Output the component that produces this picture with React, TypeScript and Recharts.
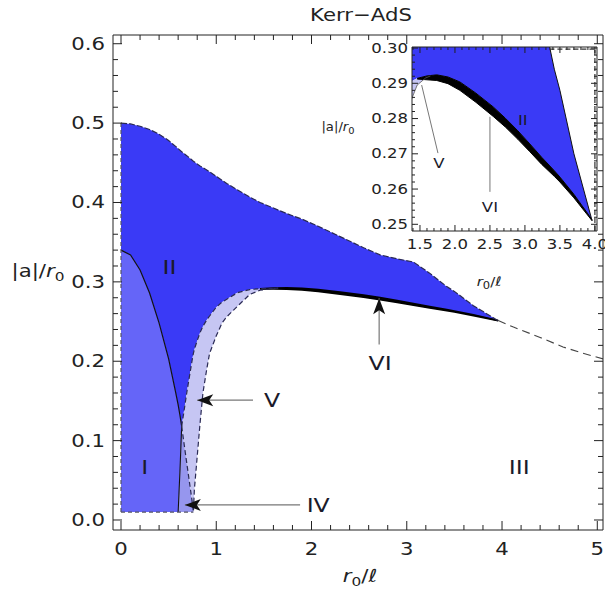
import React from 'react';
import { ComposedChart, Area, Line, Scatter, XAxis, YAxis } from 'recharts';

// region II (dark blue): top boundary and lower boundary on shared x
const iiX = [0, 0.1, 0.2, 0.3, 0.4, 0.5, 0.57, 0.637, 0.69, 0.76, 0.83, 0.9, 1.0, 1.11, 1.22, 1.35, 1.46, 1.6, 1.74, 1.9, 2.07, 2.3, 2.547, 2.72, 2.9, 3.07, 3.24, 3.42, 3.5, 3.7, 3.96];
const iiTop = [0.5, 0.499, 0.496, 0.492, 0.486, 0.478, 0.471, 0.464, 0.459, 0.452, 0.446, 0.441, 0.433, 0.424, 0.416, 0.407, 0.4, 0.393, 0.386, 0.379, 0.37, 0.357, 0.343, 0.334, 0.329, 0.325, 0.311, 0.294, 0.288, 0.27, 0.251];
const iiBottom = [0.34, 0.334, 0.315, 0.286, 0.248, 0.203, 0.163, 0.118, 0.16, 0.21, 0.236, 0.252, 0.268, 0.278, 0.2862, 0.2903, 0.2914, 0.2921, 0.2924, 0.2918, 0.2904, 0.2872, 0.2833, 0.2801, 0.2765, 0.2728, 0.269, 0.2652, 0.2634, 0.2585, 0.2513];

// region I
const iX = [0, 0.1, 0.2, 0.3, 0.4, 0.5, 0.57, 0.6, 0.62, 0.637];
const iLow = [0.01, 0.01, 0.01, 0.01, 0.01, 0.01, 0.01, 0.01, 0.065, 0.118];
const iHigh = [0.34, 0.334, 0.315, 0.286, 0.248, 0.203, 0.163, 0.145, 0.131, 0.118];

// region IV
const ivX = [0.6, 0.62, 0.637, 0.66, 0.69, 0.745, 0.76];
const ivLow = [0.01, 0.01, 0.01, 0.01, 0.01, 0.01, 0.01];
const ivHigh = [0.01, 0.065, 0.118, 0.098, 0.072, 0.025, 0.01];

// region V
const vX = [0.637, 0.66, 0.69, 0.745, 0.76, 0.77, 0.8, 0.83, 0.86, 0.9, 0.93, 1.0, 1.06, 1.11, 1.22, 1.35, 1.46, 1.58, 1.65];
const vLow = [0.118, 0.098, 0.072, 0.025, 0.01, 0.038, 0.08, 0.122, 0.16, 0.19, 0.21, 0.232, 0.248, 0.256, 0.269, 0.284, 0.2895, 0.2915, 0.2921];
const vHigh = [0.118, 0.136, 0.16, 0.2, 0.21, 0.215, 0.226, 0.236, 0.244, 0.252, 0.257, 0.268, 0.2745, 0.278, 0.2862, 0.2903, 0.2914, 0.2919, 0.2921];

// region VI (thin black band)
const viX = [1.46, 1.6, 1.74, 1.9, 2.07, 2.3, 2.547, 2.72, 2.9, 3.07, 3.24, 3.42, 3.5, 3.7, 3.96];
const viHigh = [0.2914, 0.2921, 0.2924, 0.2918, 0.2904, 0.2872, 0.2833, 0.2801, 0.2765, 0.2728, 0.269, 0.2652, 0.2634, 0.2585, 0.2513];
const viLow = [0.2912, 0.291, 0.2908, 0.2899, 0.288, 0.2846, 0.2806, 0.2776, 0.2741, 0.2706, 0.267, 0.2636, 0.262, 0.2575, 0.251];

// dashed curve through region III
const iiiX = [3.96, 4.12, 4.4, 4.64, 4.85, 5.06];
const iiiY = [0.2513, 0.243, 0.23, 0.218, 0.21, 0.203];

// region labels
const labelNames = ['I', 'II', 'III', 'IV', 'V', 'VI'];
const labelX = [0.25, 0.51, 4.18, 2.07, 1.585, 2.72];
const labelY = [0.067, 0.318, 0.067, 0.019, 0.151, 0.197];

// arrows: [from, tip]
const arrowV = { x: [1.386, 0.8], y: [0.151, 0.151] };
const arrowIV = { x: [1.88, 0.67], y: [0.019, 0.019] };
const arrowVI = { x: [2.71, 2.71], y: [0.221, 0.2795] };

// inset annotations
const insetLabelNames = ['II', 'V', 'VI'];
const insetLabelX = [2.97, 1.77, 2.5];
const insetLabelY = [0.2795, 0.2673, 0.2548];
const insetLineV = { x: [1.524, 1.757], y: [0.2895, 0.2702] };
const insetLineVI = { x: [2.5, 2.5], y: [0.2805, 0.2592] };
const insetEdgeTop = { x: [3.35, 4.03], y: [0.2997, 0.2997] };
const insetEdgeRight = { x: [4.0, 4.0], y: [0.2481, 0.3003] };

// ticks
const mainXMajor = [0, 1, 2, 3, 4, 5];
const mainYMajor = [0, 0.1, 0.2, 0.3, 0.4, 0.5, 0.6];
const insetXMajor = [1.5, 2.0, 2.5, 3.0, 3.5, 4.0];
const insetYMajor = [0.25, 0.26, 0.27, 0.28, 0.29, 0.3];

const steps = (a: number, b: number, s: number) => {
  const out: number[] = [];
  for (let k = 0; a + k * s <= b + 1e-9; k++) out.push(Math.round((a + k * s) * 1e6) / 1e6);
  return out;
};
const mainXTicks = steps(0, 5, 0.2);
const mainYTicks = steps(0, 0.6, 0.02);
const insetXTicks = steps(1.4, 4.0, 0.1);
const insetYTicks = steps(0.25, 0.3, 0.002);

const FONT = '"DejaVu Sans", sans-serif';
const INK = '#222';

const range = (xs: number[], lo: number[], hi: number[]) => xs.map((x, i) => ({ x, range: [lo[i], hi[i]] }));
const pts = (xs: number[], ys: number[]) => xs.map((x, i) => ({ x, y: ys[i] }));
const isMajor = (v: number, majors: number[]) => majors.some((m) => Math.abs(m - v) < 1e-6);

function WideText({ x, y, size, anchor, children, fill = INK }: any) {
  return (
    <text
      transform={`translate(${x},${y}) scale(1.18,1)`}
      x={0}
      y={0}
      fontSize={size}
      fontFamily={FONT}
      textAnchor={anchor}
      dominantBaseline="central"
      fill={fill}
    >
      {children}
    </text>
  );
}

function makeTick(side: 'bottom' | 'top' | 'left' | 'right', majors: number[], big: number, small: number, size: number, fmt?: (v: number) => string, gap = 0) {
  return (p: any) => {
    const { x, y, payload } = p;
    const v = payload.value;
    const major = isMajor(v, majors);
    const len = major ? big : small;
    let line;
    if (side === 'bottom') line = <line x1={x} x2={x} y1={y} y2={y - len} stroke={INK} />;
    else if (side === 'top') line = <line x1={x} x2={x} y1={y} y2={y + len} stroke={INK} />;
    else if (side === 'left') line = <line x1={x} x2={x + len} y1={y} y2={y} stroke={INK} />;
    else line = <line x1={x} x2={x - len} y1={y} y2={y} stroke={INK} />;
    let label = null;
    if (major && fmt) {
      if (side === 'bottom') label = <WideText x={x} y={y + gap} size={size} anchor="middle">{fmt(v)}</WideText>;
      if (side === 'left') label = <WideText x={x - gap} y={y} size={size} anchor="end">{fmt(v)}</WideText>;
    }
    return (
      <g key={`${side}-${v}`}>
        {line}
        {label}
      </g>
    );
  };
}

function arrowDot(dir: 'left' | 'up') {
  return (p: any) => {
    const { cx, cy, index } = p;
    if (index !== 1) return <g key={`a${index}`} />;
    const pts =
      dir === 'left'
        ? `${cx},${cy} ${cx + 16},${cy - 6} ${cx + 12},${cy} ${cx + 16},${cy + 6}`
        : `${cx},${cy} ${cx - 6},${cy + 16} ${cx},${cy + 12} ${cx + 6},${cy + 16}`;
    return <polygon key={`a${index}`} points={pts} fill="#111" />;
  };
}

function labelShape(size: number, fill: string) {
  return (p: any) => (
    <WideText x={p.cx} y={p.cy} size={size} anchor="middle" fill={fill}>
      {p.payload.name}
    </WideText>
  );
}

const C_II = '#3a3af6';
const C_I = '#6565f8';
const C_IV = '#9696ee';
const C_V = '#c6c6f3';
const DASH = '#2a2a55';

export default function App() {
  const iiData = range(iiX, iiBottom, iiTop);
  const iData = range(iX, iLow, iHigh);
  const ivData = range(ivX, ivLow, ivHigh);
  const vData = range(vX, vLow, vHigh);
  const viData = range(viX, viLow, viHigh);
  const labels = labelNames.map((name, i) => ({ name, x: labelX[i], y: labelY[i] }));
  const insetLabels = insetLabelNames.map((name, i) => ({ name, x: insetLabelX[i], y: insetLabelY[i] }));

  const common = { isAnimationActive: false, dot: false, activeDot: false } as any;

  return (
    <div style={{ position: 'absolute', left: 0, top: 0, width: 605, height: 600, background: '#fff', fontFamily: FONT }}>
      <ComposedChart width={605} height={600} margin={{ top: 34, right: 1, bottom: 0, left: 0 }}>
        <XAxis type="number" dataKey="x" domain={[-0.084, 5.06]} allowDataOverflow ticks={mainXTicks} interval={0}
          tickSize={0} tickMargin={0} tickLine={false} height={70} stroke={INK}
          tick={makeTick('bottom', mainXMajor, 9, 5, 18, (v) => String(Math.round(v)), 19)} />
        <XAxis xAxisId="t" orientation="top" type="number" dataKey="x" domain={[-0.084, 5.06]} allowDataOverflow ticks={mainXTicks} interval={0}
          tickSize={0} tickMargin={0} tickLine={false} height={1} stroke={INK}
          tick={makeTick('top', mainXMajor, 9, 5, 18)} />
        <YAxis type="number" domain={[-0.0126, 0.611]} allowDataOverflow ticks={mainYTicks} interval={0}
          tickSize={0} tickMargin={0} tickLine={false} width={113} stroke={INK}
          tick={makeTick('left', mainYMajor, 9, 5, 18, (v) => v.toFixed(1), 8)} />
        <YAxis yAxisId="r" orientation="right" type="number" domain={[-0.0126, 0.611]} allowDataOverflow ticks={mainYTicks} interval={0}
          tickSize={0} tickMargin={0} tickLine={false} width={1} stroke={INK}
          tick={makeTick('right', mainYMajor, 9, 5, 18)} />

        <Area data={iiData} dataKey="range" type="linear" fill={C_II} fillOpacity={1} stroke="none" {...common} />
        <Area data={iData} dataKey="range" type="linear" fill={C_I} fillOpacity={1} stroke="none" {...common} />
        <Area data={ivData} dataKey="range" type="linear" fill={C_IV} fillOpacity={1} stroke="none" {...common} />
        <Area data={vData} dataKey="range" type="linear" fill={C_V} fillOpacity={1} stroke="none" {...common} />
        <Area data={viData} dataKey="range" type="linear" fill="#000" fillOpacity={1} stroke="#000" strokeWidth={1.6} {...common} />

        <Line data={pts(iiX, iiTop)} dataKey="y" type="linear" stroke={DASH} strokeWidth={1.2} strokeDasharray="6 2" {...common} />
        <Line data={pts(iX, iHigh)} dataKey="y" type="linear" stroke="#111" strokeWidth={1.2} {...common} />
        <Line data={pts(iX.slice(7), iLow.slice(7))} dataKey="y" type="linear" stroke="#111" strokeWidth={1.1} {...common} />
        <Line data={pts(vX, vHigh)} dataKey="y" type="linear" stroke={DASH} strokeWidth={1.2} strokeDasharray="5 3" {...common} />
        <Line data={pts(vX, vLow)} dataKey="y" type="linear" stroke={DASH} strokeWidth={1.2} strokeDasharray="5 3" {...common} />
        <Line data={pts([0, 0], [iLow[0], iiTop[0]])} dataKey="y" type="linear" stroke="#556" strokeWidth={1.2} strokeDasharray="4 3" {...common} />
        <Line data={pts([0, ivX[ivX.length - 1]], [iLow[0], iLow[0]])} dataKey="y" type="linear" stroke="#556" strokeWidth={1.2} strokeDasharray="4 3" {...common} />
        <Line data={pts(iiiX, iiiY)} dataKey="y" type="linear" stroke="#444" strokeWidth={1.1} strokeDasharray="8 5" {...common} />

        <Line data={pts(arrowV.x, arrowV.y)} dataKey="y" type="linear" stroke="#777" strokeWidth={1.2} isAnimationActive={false} dot={arrowDot('left')} activeDot={false} />
        <Line data={pts(arrowIV.x, arrowIV.y)} dataKey="y" type="linear" stroke="#777" strokeWidth={1.2} isAnimationActive={false} dot={arrowDot('left')} activeDot={false} />
        <Line data={pts(arrowVI.x, arrowVI.y)} dataKey="y" type="linear" stroke="#777" strokeWidth={1.2} isAnimationActive={false} dot={arrowDot('up')} activeDot={false} />

        <Scatter data={labels} dataKey="y" isAnimationActive={false} shape={labelShape(20, '#1a1a2a')} />
      </ComposedChart>

      <div style={{ position: 'absolute', left: 361, top: 4, transform: 'translateX(-50%) scaleX(1.18)', fontSize: 18, color: INK, whiteSpace: 'nowrap' }}>Kerr−AdS</div>
      <div style={{ position: 'absolute', left: 38, top: 260, transform: 'translateX(-50%) scaleX(1.18)', fontSize: 18, color: INK, whiteSpace: 'nowrap' }}>
        |a|/<i>r</i><span style={{ fontSize: 13, position: 'relative', top: 4 }}>0</span>
      </div>
      <div style={{ position: 'absolute', left: 360, top: 565, transform: 'translateX(-50%) scaleX(1.18)', fontSize: 18, color: INK, whiteSpace: 'nowrap' }}>
        <i>r</i><span style={{ fontSize: 13, position: 'relative', top: 4 }}>0</span>/<i>ℓ</i>
      </div>

      <div style={{ position: 'absolute', left: 330, top: 30, width: 275, height: 270 }}>
        <ComposedChart width={275} height={270} margin={{ top: 16, right: 7, bottom: 0, left: 0 }}>
          <XAxis type="number" dataKey="x" domain={[1.386, 4.03]} allowDataOverflow ticks={insetXTicks} interval={0}
            tickSize={0} tickMargin={0} tickLine={false} height={69} stroke={INK}
            tick={makeTick('bottom', insetXMajor, 6, 3, 14, (v) => v.toFixed(1), 13)} />
          <XAxis xAxisId="t" orientation="top" type="number" dataKey="x" domain={[1.386, 4.03]} allowDataOverflow ticks={insetXTicks} interval={0}
            tickSize={0} tickMargin={0} tickLine={false} height={1} stroke={INK}
            tick={makeTick('top', insetXMajor, 6, 3, 14)} />
          <YAxis type="number" domain={[0.2481, 0.3003]} allowDataOverflow ticks={insetYTicks} interval={0}
            tickSize={0} tickMargin={0} tickLine={false} width={82} stroke={INK}
            tick={makeTick('left', insetYMajor, 6, 3, 14, (v) => v.toFixed(2), 4)} />
          <YAxis yAxisId="r" orientation="right" type="number" domain={[0.2481, 0.3003]} allowDataOverflow ticks={insetYTicks} interval={0}
            tickSize={0} tickMargin={0} tickLine={false} width={1} stroke={INK}
            tick={makeTick('right', insetYMajor, 6, 3, 14)} />

          <Area data={iiData} dataKey="range" type="linear" fill={C_II} fillOpacity={1} stroke="none" {...common} />
          <Area data={vData} dataKey="range" type="linear" fill={C_V} fillOpacity={1} stroke="none" {...common} />
          <Area data={viData} dataKey="range" type="linear" fill="#000" fillOpacity={1} stroke="#000" strokeWidth={1} {...common} />
          <Line data={pts(iiX, iiTop)} dataKey="y" type="linear" stroke="#111" strokeWidth={1} {...common} />
          <Line data={pts(vX, vLow)} dataKey="y" type="linear" stroke="#555" strokeWidth={0.8} {...common} />
          <Line data={pts(insetEdgeTop.x, insetEdgeTop.y)} dataKey="y" type="linear" stroke="#333" strokeWidth={1.2} strokeDasharray="5 3" {...common} />
          <Line data={pts(insetEdgeRight.x, insetEdgeRight.y)} dataKey="y" type="linear" stroke="#333" strokeWidth={1.2} strokeDasharray="5 3" {...common} />
          <Line data={pts(insetLineV.x, insetLineV.y)} dataKey="y" type="linear" stroke="#777" strokeWidth={1} {...common} />
          <Line data={pts(insetLineVI.x, insetLineVI.y)} dataKey="y" type="linear" stroke="#777" strokeWidth={1} {...common} />
          <Scatter data={insetLabels} dataKey="y" isAnimationActive={false} shape={labelShape(14, '#1a1a2a')} />
        </ComposedChart>
        <div style={{ position: 'absolute', left: 8, top: 90, transform: 'translateX(-50%) scaleX(1.1)', fontSize: 12, color: INK, whiteSpace: 'nowrap' }}>
          |a|/<i>r</i><span style={{ fontSize: 9, position: 'relative', top: 3 }}>0</span>
        </div>
        <div style={{ position: 'absolute', left: 159, top: 244, transform: 'translateX(-50%) scaleX(1.15)', fontSize: 13, color: INK, whiteSpace: 'nowrap' }}>
          <i>r</i><span style={{ fontSize: 10, position: 'relative', top: 3 }}>0</span>/<i>ℓ</i>
        </div>
      </div>
    </div>
  );
}
